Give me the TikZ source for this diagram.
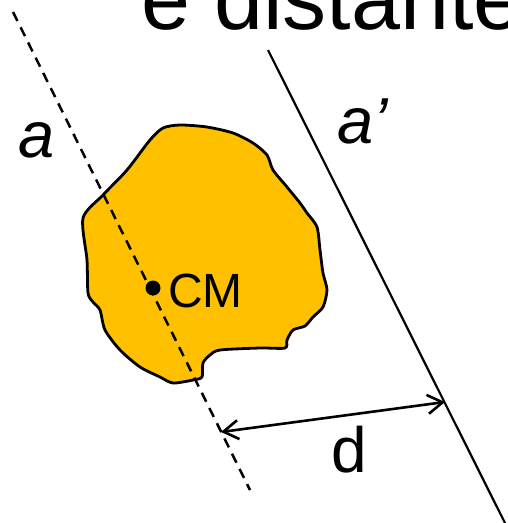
\documentclass[tikz,border=0pt]{standalone}
\usepackage{fontspec}
\setmainfont{Liberation Sans}
\usetikzlibrary{arrows.meta}
\definecolor{gold}{HTML}{FFC000}
\begin{document}
\begin{tikzpicture}[x=1pt,y=-1pt,
  lbl/.style={inner sep=0pt,outer sep=0pt,text=black},
  axisline/.style={line width=2.2pt,black},
  dashaxis/.style={line width=2.5pt,black,dash pattern=on 10pt off 7pt},
  blob/.style={line width=2.8pt,black,fill=gold,line join=round},
  dimarrow/.style={line width=2.6pt,black,{Straight Barb[length=15pt,width=19pt,line width=2.6pt]}-{Straight Barb[length=15pt,width=19pt,line width=2.6pt]}}
]
\useasboundingbox (0,0) rectangle (507,523);
% title (cropped as in the reference)
\node[lbl,anchor=base west,font=\fontsize{88}{90}\selectfont] (title) at (141,29) {e distante};
% blob
\draw[blob] plot[smooth cycle,tension=0.45] coordinates {
 (83,218) (103,195) (127,170) (150,140) (163,128) (180,125) (207,127) (233,133)
 (253,143) (267,155) (273,170) (287,187) (300,203) (307,213) (317,227) (320,250)
 (323,273) (327,290) (323,307) (313,317) (305,326) (293,330) (287,340) (285,348)
 (260,348) (220,350) (210,355) (203,363) (202,377) (193,380) (173,383) (160,377)
 (140,367) (120,350) (105,330) (100,310) (93,302) (88,293) (87,260)};
% axes
\coordinate (a1) at (13,12);
\coordinate (a2) at (250,490);
\coordinate (b1) at (268,50);
\coordinate (b2) at (506,525);
\draw[dashaxis] (a1) -- (a2);
\draw[axisline] (b1) -- (b2);
% CM
\fill (153,288) circle (7.5pt) coordinate (cm);
\node[lbl,anchor=base west,font=\fontsize{48}{50}\selectfont] (cmlabel) at (168,307) {CM};
% labels
\node[lbl,anchor=base,font=\fontsize{65}{68}\selectfont\itshape] (la) at (37,157) {a};
\node[lbl,anchor=base west,font=\fontsize{65}{68}\selectfont\itshape] (lb) at (337,143) {a’};
% distance
\coordinate (d1) at (221,432);
\coordinate (d2) at (445,402);
\draw[dimarrow] (d1) -- (d2);
\node[lbl,anchor=base,font=\fontsize{64}{66}\selectfont] (dl) at (349,472) {d};
\end{tikzpicture}
\end{document}
